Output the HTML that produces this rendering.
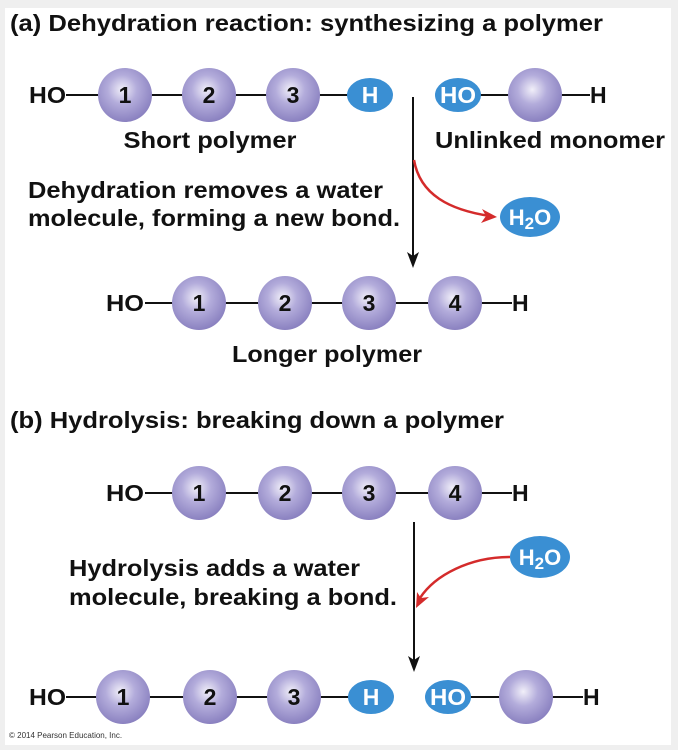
<!DOCTYPE html>
<html><head><meta charset="utf-8"><style>
html,body{margin:0;padding:0;background:#efefef;}
svg{display:block;}
text{font-family:"Liberation Sans",Arial,sans-serif;font-weight:bold;fill:#111;}
</style></head><body>
<svg width="678" height="750" viewBox="0 0 678 750" xmlns="http://www.w3.org/2000/svg">
<defs>
<radialGradient id="ball" cx="0.45" cy="0.4" r="0.6">
<stop offset="0" stop-color="#f1eff9"/>
<stop offset="0.45" stop-color="#b3acdb"/>
<stop offset="1" stop-color="#8a81c0"/>
</radialGradient>
</defs>
<rect x="5" y="8" width="666" height="737" fill="#fff"/>

<text x="10" y="31" font-size="23" textLength="593" lengthAdjust="spacingAndGlyphs">(a) Dehydration reaction: synthesizing a polymer</text>

<!-- Row 1 -->
<g font-size="23">
<line x1="66" y1="95" x2="350" y2="95" stroke="#111" stroke-width="2"/>
<text x="29" y="103" textLength="37" lengthAdjust="spacingAndGlyphs">HO</text>
<circle cx="125" cy="95" r="27" fill="url(#ball)"/>
<circle cx="209" cy="95" r="27" fill="url(#ball)"/>
<circle cx="293" cy="95" r="27" fill="url(#ball)"/>
<text x="125" y="103" text-anchor="middle">1</text>
<text x="209" y="103" text-anchor="middle">2</text>
<text x="293" y="103" text-anchor="middle">3</text>
<ellipse cx="370" cy="95" rx="23" ry="17" fill="#3a8fd3"/>
<text x="370" y="103" text-anchor="middle" style="fill:#fff">H</text>
<line x1="480" y1="95" x2="590" y2="95" stroke="#111" stroke-width="2"/>
<ellipse cx="458" cy="95" rx="23" ry="17" fill="#3a8fd3"/>
<text x="458" y="103" text-anchor="middle" style="fill:#fff" textLength="36" lengthAdjust="spacingAndGlyphs">HO</text>
<circle cx="535" cy="95" r="27" fill="url(#ball)"/>
<text x="590" y="103">H</text>
</g>
<text x="210" y="148" font-size="23" text-anchor="middle" textLength="173" lengthAdjust="spacingAndGlyphs">Short polymer</text>
<text x="550" y="148" font-size="23" text-anchor="middle" textLength="230" lengthAdjust="spacingAndGlyphs">Unlinked monomer</text>

<line x1="413" y1="97" x2="413" y2="256" stroke="#111" stroke-width="2"/>
<path d="M407,252 L413,268 L419,252 L413,256 Z" fill="#111"/>
<path d="M414,160 C420,195 450,210 490,216" fill="none" stroke="#d42b2b" stroke-width="2.5"/>
<path d="M497,217 L482,209 L486,216 L481,223 Z" fill="#d42b2b"/>
<ellipse cx="530" cy="217" rx="30" ry="20" fill="#3a8fd3"/>
<text x="530" y="225" font-size="22" text-anchor="middle" style="fill:#fff">H<tspan font-size="17" dy="4">2</tspan><tspan dy="-4">O</tspan></text>

<text x="28" y="198" font-size="23" textLength="355" lengthAdjust="spacingAndGlyphs">Dehydration removes a water</text>
<text x="28" y="226" font-size="23" textLength="372" lengthAdjust="spacingAndGlyphs">molecule, forming a new bond.</text>

<!-- Row 2 -->
<g font-size="23">
<line x1="145" y1="303" x2="512" y2="303" stroke="#111" stroke-width="2"/>
<text x="106" y="311" textLength="38" lengthAdjust="spacingAndGlyphs">HO</text>
<circle cx="199" cy="303" r="27" fill="url(#ball)"/>
<circle cx="285" cy="303" r="27" fill="url(#ball)"/>
<circle cx="369" cy="303" r="27" fill="url(#ball)"/>
<circle cx="455" cy="303" r="27" fill="url(#ball)"/>
<text x="199" y="311" text-anchor="middle">1</text>
<text x="285" y="311" text-anchor="middle">2</text>
<text x="369" y="311" text-anchor="middle">3</text>
<text x="455" y="311" text-anchor="middle">4</text>
<text x="512" y="311">H</text>
</g>
<text x="327" y="362" font-size="23" text-anchor="middle" textLength="190" lengthAdjust="spacingAndGlyphs">Longer polymer</text>

<text x="10" y="428" font-size="23" textLength="494" lengthAdjust="spacingAndGlyphs">(b) Hydrolysis: breaking down a polymer</text>

<!-- Row 3 -->
<g font-size="23">
<line x1="145" y1="493" x2="512" y2="493" stroke="#111" stroke-width="2"/>
<text x="106" y="501" textLength="38" lengthAdjust="spacingAndGlyphs">HO</text>
<circle cx="199" cy="493" r="27" fill="url(#ball)"/>
<circle cx="285" cy="493" r="27" fill="url(#ball)"/>
<circle cx="369" cy="493" r="27" fill="url(#ball)"/>
<circle cx="455" cy="493" r="27" fill="url(#ball)"/>
<text x="199" y="501" text-anchor="middle">1</text>
<text x="285" y="501" text-anchor="middle">2</text>
<text x="369" y="501" text-anchor="middle">3</text>
<text x="455" y="501" text-anchor="middle">4</text>
<text x="512" y="501">H</text>
</g>

<line x1="414" y1="522" x2="414" y2="660" stroke="#111" stroke-width="2"/>
<path d="M408,656 L414,672 L420,656 L414,660 Z" fill="#111"/>
<path d="M510,557 C470,557 435,575 420,598" fill="none" stroke="#d42b2b" stroke-width="2.5"/>
<path d="M416,608 L417,592 L421,598 L429,597 Z" fill="#d42b2b"/>
<ellipse cx="540" cy="557" rx="30" ry="21" fill="#3a8fd3"/>
<text x="540" y="565" font-size="22" text-anchor="middle" style="fill:#fff">H<tspan font-size="17" dy="4">2</tspan><tspan dy="-4">O</tspan></text>

<text x="69" y="576" font-size="23" textLength="291" lengthAdjust="spacingAndGlyphs">Hydrolysis adds a water</text>
<text x="69" y="605" font-size="23" textLength="328" lengthAdjust="spacingAndGlyphs">molecule, breaking a bond.</text>

<!-- Row 4 -->
<g font-size="23">
<line x1="66" y1="697" x2="350" y2="697" stroke="#111" stroke-width="2"/>
<text x="29" y="705" textLength="37" lengthAdjust="spacingAndGlyphs">HO</text>
<circle cx="123" cy="697" r="27" fill="url(#ball)"/>
<circle cx="210" cy="697" r="27" fill="url(#ball)"/>
<circle cx="294" cy="697" r="27" fill="url(#ball)"/>
<text x="123" y="705" text-anchor="middle">1</text>
<text x="210" y="705" text-anchor="middle">2</text>
<text x="294" y="705" text-anchor="middle">3</text>
<ellipse cx="371" cy="697" rx="23" ry="17" fill="#3a8fd3"/>
<text x="371" y="705" text-anchor="middle" style="fill:#fff">H</text>
<line x1="470" y1="697" x2="583" y2="697" stroke="#111" stroke-width="2"/>
<ellipse cx="448" cy="697" rx="23" ry="17" fill="#3a8fd3"/>
<text x="448" y="705" text-anchor="middle" style="fill:#fff" textLength="36" lengthAdjust="spacingAndGlyphs">HO</text>
<circle cx="526" cy="697" r="27" fill="url(#ball)"/>
<text x="583" y="705">H</text>
</g>
<text x="9" y="738" font-size="8" style="font-weight:normal;fill:#333">© 2014 Pearson Education, Inc.</text>
</svg>
</body></html>
